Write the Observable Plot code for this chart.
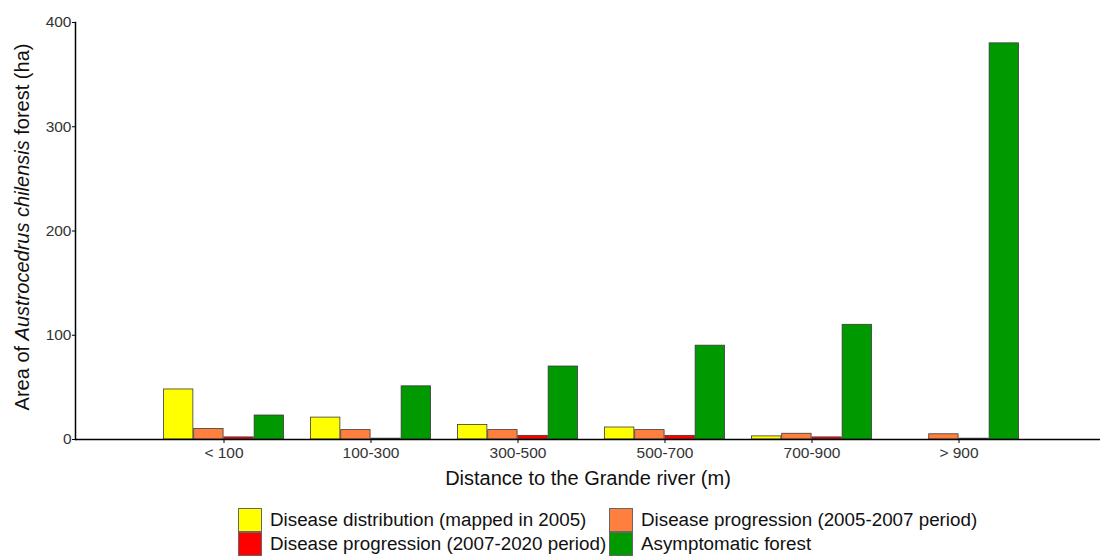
<!DOCTYPE html>
<html>
<head>
<meta charset="utf-8">
<script src="https://cdn.jsdelivr.net/npm/d3@7"></script>
<script src="https://cdn.jsdelivr.net/npm/@observablehq/plot@0.6"></script>
<style>
  html, body { margin: 0; padding: 0; background: #fff; }
  body { width: 1100px; height: 556px; overflow: hidden; font-family: "Liberation Sans", Arial, sans-serif; }
  #legend { position: relative; height: 64px; }
  .item { position: absolute; display: flex; align-items: center; font-size: 18.8px; color: #111; height: 24px; }
  .sw { width: 24px; height: 24px; border: 1px solid #666; box-sizing: border-box; margin-right: 8px; }
</style>
</head>
<body>
<div id="chart"></div>
<div id="legend"></div>
<script>
const categories = ["< 100", "100-300", "300-500", "500-700", "700-900", "> 900"];
const seriesNames = [
  "Disease distribution (mapped in 2005)",
  "Disease progression (2005-2007 period)",
  "Disease progression (2007-2020 period)",
  "Asymptomatic forest"
];
const seriesColors = ["#ffff00", "#ff7f3f", "#ff0000", "#009900"];
const distribution2005 = [48, 21, 14, 11.5, 3, 0];
const progression0507 = [10, 9, 9, 9, 5.5, 5];
const progression0720 = [2, 0.8, 3.5, 3.5, 2, 0.8];
const asymptomatic = [23, 51, 70, 90, 110, 380];
const yTicks = [0, 100, 200, 300, 400];

const seriesValues = [distribution2005, progression0507, progression0720, asymptomatic];

const W = 1100, H = 492, ML = 75, MR = 0, MT = 22, MB = 53;
const padIn = 0.18, padOut = 0.5;
const xRange = [88, 1093];
const bw = d3.scaleBand().domain(categories).range(xRange).paddingInner(padIn).paddingOuter(padOut).bandwidth();
const slot = bw / 4;

const marks = [];
seriesValues.forEach((vals, i) => {
  const rows = categories.map((c, j) => ({cat: c, value: vals[j]}));
  marks.push(Plot.barY(rows, {
    x: "cat", y: "value",
    fill: seriesColors[i],
    stroke: "#3a3a3a", strokeWidth: 0.8,
    insetLeft: i * slot + 0.5,
    insetRight: (3 - i) * slot + 0.5
  }));
});

const chart = Plot.plot({
  width: W, height: H,
  marginLeft: ML, marginRight: MR, marginTop: MT, marginBottom: MB,
  style: {fontFamily: "'Liberation Sans', Arial, sans-serif", background: "#fff", color: "#333"},
  x: {domain: categories, range: xRange, paddingInner: padIn, paddingOuter: padOut},
  y: {domain: [0, 400], ticks: yTicks},
  marks: [
    ...marks,
    Plot.ruleY([0], {stroke: "#000", strokeWidth: 1.5}),
    Plot.frame({anchor: "left", stroke: "#000", strokeWidth: 1.5}),
    Plot.axisY({ticks: yTicks, tickSize: 3, tickPadding: 1, fontSize: 15.5, label: null, stroke: "#000", fill: "#333"}),
    Plot.axisX({tickSize: 4, tickPadding: 3, fontSize: 15.5, label: null, stroke: "#000", fill: "#333"}),
    Plot.text(["Distance to the Grande river (m)"], {frameAnchor: "bottom", dy: 45, fontSize: 20, fill: "#111"})
  ]
});
document.getElementById("chart").appendChild(chart);

// y-axis title with italic species name
const svg = d3.select(chart);
const t = svg.append("text")
  .attr("transform", "translate(29,227) rotate(-90)")
  .attr("text-anchor", "middle")
  .attr("font-size", 20)
  .attr("fill", "#111")
  .attr("font-family", "'Liberation Sans', Arial, sans-serif");
t.append("tspan").text("Area of ");
t.append("tspan").attr("font-style", "italic").text("Austrocedrus chilensis");
t.append("tspan").text(" forest (ha)");

// legend
const legend = document.getElementById("legend");
const pos = [[238, 16], [609, 16], [238, 40], [609, 40]];
seriesNames.forEach((name, i) => {
  const d = document.createElement("div");
  d.className = "item";
  d.style.left = pos[i][0] + "px";
  d.style.top = pos[i][1] + "px";
  const s = document.createElement("div");
  s.className = "sw";
  s.style.background = seriesColors[i];
  d.appendChild(s);
  const sp = document.createElement("span");
  sp.textContent = name;
  d.appendChild(sp);
  legend.appendChild(d);
});
</script>
</body>
</html>
